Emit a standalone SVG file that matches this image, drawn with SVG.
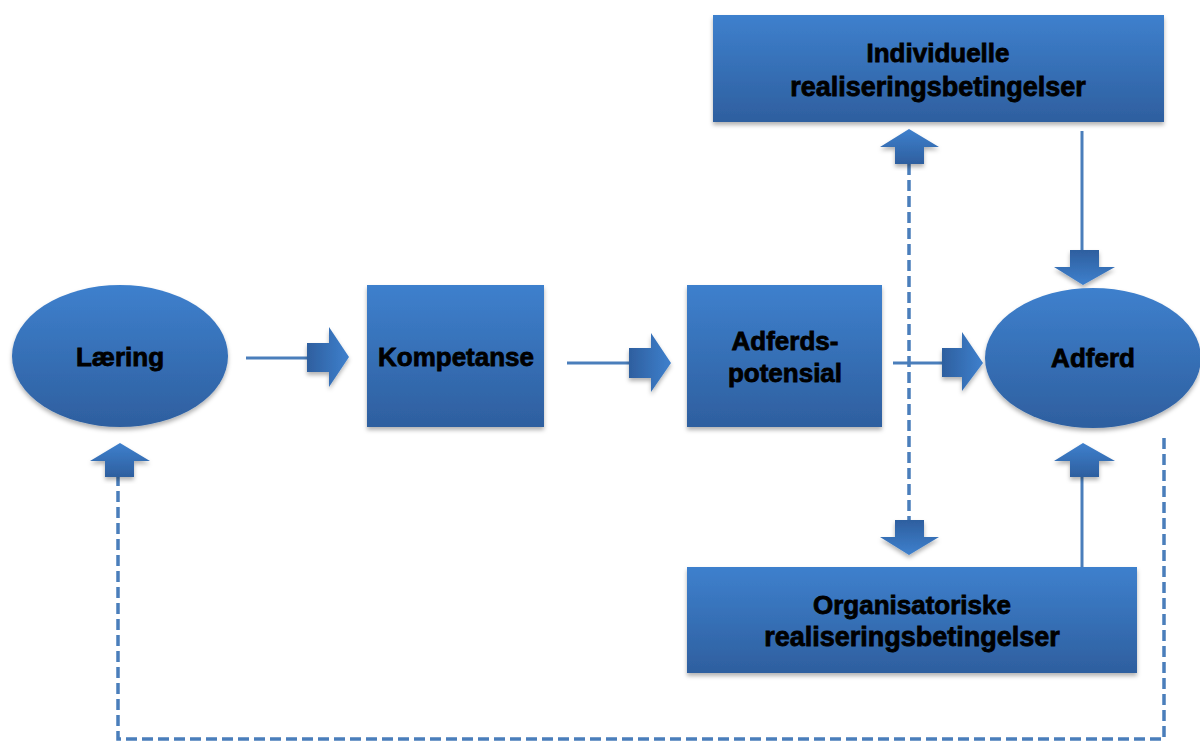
<svg xmlns="http://www.w3.org/2000/svg" width="1200" height="742" viewBox="0 0 1200 742">
<defs>
<linearGradient id="gV" x1="0" y1="0" x2="0" y2="1"><stop offset="0" stop-color="#3e80cd"/><stop offset="1" stop-color="#2e5f9f"/></linearGradient>
<linearGradient id="gDown" x1="0" y1="0" x2="0" y2="1"><stop offset="0" stop-color="#2e5f9f"/><stop offset="1" stop-color="#3e80cd"/></linearGradient>
<linearGradient id="gRight" x1="0" y1="0" x2="1" y2="0"><stop offset="0" stop-color="#2e5f9f"/><stop offset="1" stop-color="#3e80cd"/></linearGradient>
<filter id="sh" x="-10%" y="-10%" width="120%" height="130%"><feDropShadow dx="0" dy="3" stdDeviation="2" flood-color="#000" flood-opacity="0.3"/></filter>
</defs>
<style>
.n{fill:url(#gV);filter:url(#sh)}
.t{font-family:"Liberation Sans",Arial,sans-serif;font-weight:bold;font-size:26px;fill:#000;stroke:#000;stroke-width:0.8;text-anchor:middle}
.ln{stroke:#4a7ebb;stroke-width:3;fill:none}
.ds{stroke:#4a7ebb;stroke-width:3.5;fill:none;stroke-dasharray:11 5}
.ar{fill:url(#gRight);filter:url(#sh)}
.au{fill:url(#gV);filter:url(#sh)}
.ad{fill:url(#gDown);filter:url(#sh)}
</style>
<rect width="1200" height="742" fill="#fff"/>
<g id="connectors">
<line class="ln" x1="246" y1="358" x2="309" y2="358"/>
<line class="ln" x1="567" y1="363" x2="631" y2="363"/>
<line class="ln" x1="893" y1="363" x2="944" y2="363"/>
<line class="ln" x1="1082" y1="131" x2="1082" y2="252"/>
<line class="ln" x1="1082" y1="567" x2="1082" y2="455"/>
<line class="ds" x1="909" y1="164" x2="909" y2="521"/>
<polyline class="ds" points="1164,438 1164,739 118,739 118,476"/>
<path class="ar" d="M307,343H329V327L349,357L329,387V372H307Z"/>
<path class="ar" d="M629,348H651V333L671,363L651,392V378H629Z"/>
<path class="ar" d="M942,348H962V332L983,363L962,391V377H942Z"/>
<path class="au" d="M895,164V147H880L909,129L939,147H924V164Z"/>
<path class="ad" d="M1070,250H1099V267H1115L1083,285L1054,267H1070Z"/>
<path class="au" d="M1070,477V461H1054L1083,443L1115,461H1099V477Z"/>
<path class="ad" d="M895,520H924V537H939L909,555L880,537H895Z"/>
<path class="au" d="M105,477V461H90L120,443L150,461H134V477Z"/>
</g>
<g id="laering">
<ellipse class="n" cx="120" cy="356" rx="108" ry="71"/>
<text class="t" x="120" y="366">Læring</text>
</g>
<g id="kompetanse">
<rect class="n" x="367" y="285" width="177" height="142"/>
<text class="t" x="456" y="366">Kompetanse</text>
</g>
<g id="adferdspotensial">
<rect class="n" x="687" y="285" width="195" height="142"/>
<text class="t" x="785" y="350">Adferds-</text>
<text class="t" x="785" y="382">potensial</text>
</g>
<g id="adferd">
<ellipse class="n" cx="1093" cy="358" rx="108" ry="70"/>
<text class="t" x="1093" y="367">Adferd</text>
</g>
<g id="individuelle">
<rect class="n" x="713" y="15" width="451" height="107"/>
<text class="t" x="938" y="62">Individuelle</text>
<text class="t" x="938" y="96" style="font-size:27px">realiseringsbetingelser</text>
</g>
<g id="organisatoriske">
<rect class="n" x="687" y="567" width="450" height="106"/>
<text class="t" x="912" y="614">Organisatoriske</text>
<text class="t" x="912" y="646" style="font-size:27px">realiseringsbetingelser</text>
</g>
</svg>
